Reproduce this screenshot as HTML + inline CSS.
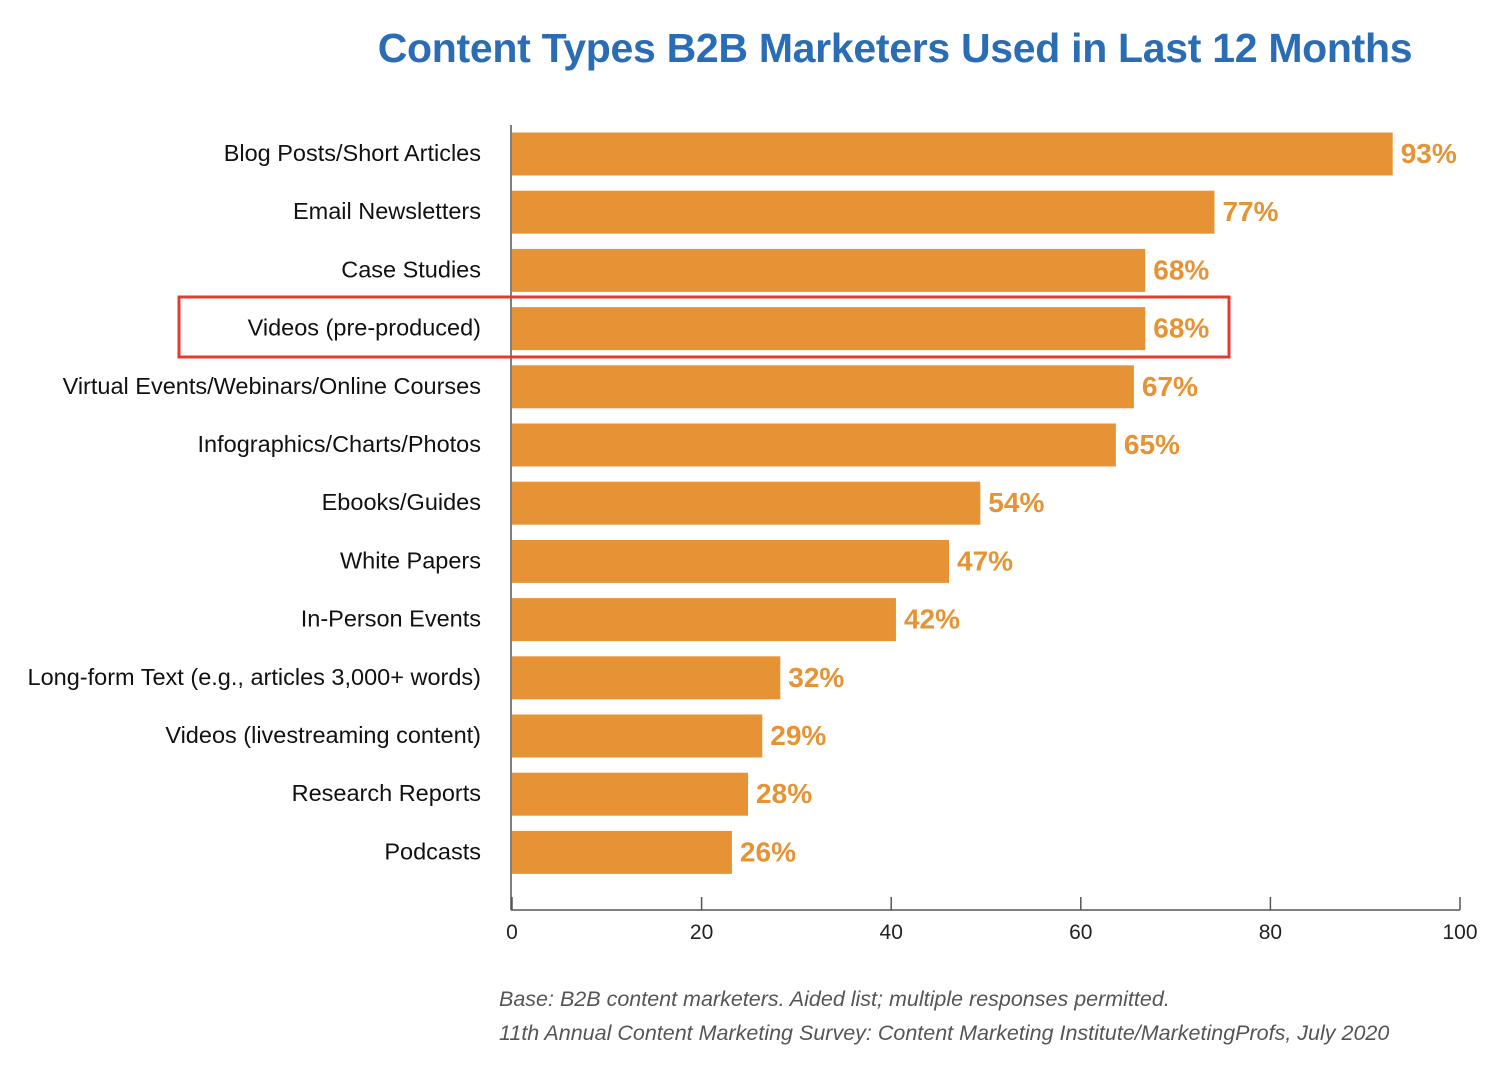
<!DOCTYPE html>
<html><head><meta charset="utf-8"><style>
body{margin:0;background:#fff;}
svg{display:block;font-family:"Liberation Sans",sans-serif;}
</style></head><body>
<svg id="chart" width="1498" height="1068" viewBox="0 0 1498 1068" xmlns="http://www.w3.org/2000/svg">
<text x="895" y="62" text-anchor="middle" font-size="41" font-weight="bold" fill="#2a6db5" letter-spacing="-0.3">Content Types B2B Marketers Used in Last 12 Months</text>
<g id="bars"></g>
<g id="axis"></g>
<rect x="179" y="297" width="1050" height="60" fill="none" stroke="#e53b2f" stroke-width="3"/>
<text x="499" y="1006" font-size="21.5" font-style="italic" fill="#555">Base: B2B content marketers. Aided list; multiple responses permitted.</text>
<text x="499" y="1040" font-size="21.5" font-style="italic" fill="#555">11th Annual Content Marketing Survey: Content Marketing Institute/MarketingProfs, July 2020</text>
</svg>
<script>
const categories=["Blog Posts/Short Articles","Email Newsletters","Case Studies","Videos (pre-produced)","Virtual Events/Webinars/Online Courses","Infographics/Charts/Photos","Ebooks/Guides","White Papers","In-Person Events","Long-form Text (e.g., articles 3,000+ words)","Videos (livestreaming content)","Research Reports","Podcasts"];
const barValues=[92.9,74.1,66.8,66.8,65.6,63.7,49.4,46.1,40.5,28.3,26.4,24.9,23.2];
const valueLabels=["93%","77%","68%","68%","67%","65%","54%","47%","42%","32%","29%","28%","26%"];
const ticks=[0,20,40,60,80,100];
const NS="http://www.w3.org/2000/svg";
const x0=512,x1=1460,axisY=910,top0=154,step=58.2,bh=43;
const xs=v=>x0+(x1-x0)*v/100;
const ys=i=>top0+i*step;
function mk(t,a,p){const e=document.createElementNS(NS,t);for(const k in a)e.setAttribute(k,a[k]);p.appendChild(e);return e;}
const gb=document.getElementById('bars'),ga=document.getElementById('axis');
categories.forEach((c,i)=>{
  const y=ys(i);
  const r=mk('rect',{x:x0,y:y-bh/2,width:xs(barValues[i])-x0,height:bh,fill:'#e69335'},gb);
  
  
  const l=mk('text',{x:481,y:y+7,'text-anchor':'end','font-size':23.5,fill:'#111'},gb);l.textContent=c;
  
  
  const v=mk('text',{x:xs(barValues[i])+8,y:y+9,'font-size':28,'font-weight':'bold',fill:'#e69335'},gb);v.textContent=valueLabels[i];
  
  
});
const ax=mk('line',{x1:x0-1,y1:125,x2:x0-1,y2:axisY,stroke:'#555','stroke-width':1.5},ga);


const bx=mk('line',{x1:x0-1,y1:axisY,x2:x1,y2:axisY,stroke:'#555','stroke-width':1.5},ga);


ticks.forEach(t=>{
  const tk=mk('line',{x1:xs(t),y1:axisY-13,x2:xs(t),y2:axisY,stroke:'#555','stroke-width':1.5},ga);
  
  
  const tl=mk('text',{x:xs(t),y:939,'text-anchor':'middle','font-size':21,fill:'#222'},ga);tl.textContent=t;
  
  
});
</script>
</body></html>
